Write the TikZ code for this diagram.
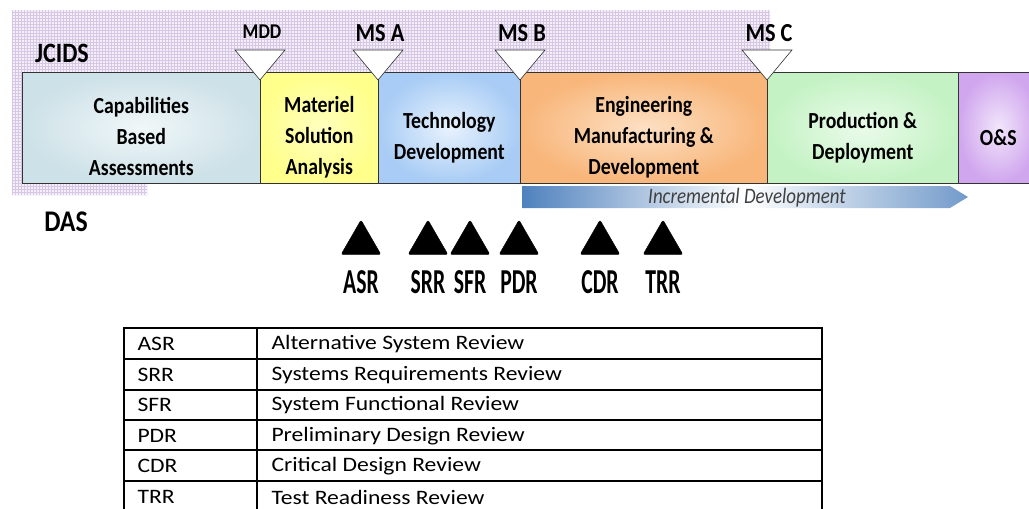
\documentclass[tikz,border=0pt]{standalone}
\usepackage{fontspec}
\setmainfont{Carlito}
\newfontfamily\narrowfont[FakeStretch=0.86]{Carlito}
\newfontfamily\reviewfont[FakeStretch=0.62]{Carlito}
\newfontfamily\tablefont[FakeStretch=1.15]{Carlito}
\usetikzlibrary{shapes.geometric}

\definecolor{jcidsfill}{RGB}{243,238,248}
\definecolor{jcidsgrid}{RGB}{214,200,228}
\definecolor{cbaout}{RGB}{205,225,232}
\definecolor{cbain}{RGB}{240,247,248}
\definecolor{msaout}{RGB}{255,255,140}
\definecolor{msain}{RGB}{255,255,190}
\definecolor{tdout}{RGB}{168,204,245}
\definecolor{tdin}{RGB}{232,242,253}
\definecolor{emdout}{RGB}{248,182,122}
\definecolor{emdin}{RGB}{253,224,196}
\definecolor{pdout}{RGB}{196,242,196}
\definecolor{pdin}{RGB}{234,251,234}
\definecolor{osout}{RGB}{208,166,238}
\definecolor{osin}{RGB}{242,230,251}
\definecolor{incblue}{RGB}{79,129,189}

\tikzset{
  stagebox/.style={draw=black!80, semithick, minimum height=111pt, inner sep=0pt, anchor=north west},
  stagetext/.style={font=\narrowfont\bfseries\fontsize{23}{31}\selectfont, align=center},
  milestone/.style={draw=black!80, semithick, fill=white},
  mslabel/.style={font=\narrowfont\bfseries\fontsize{26}{28}\selectfont},
  review/.style={regular polygon, regular polygon sides=3, fill=black, draw=black,
    line join=round, rounded corners=2pt, minimum size=46pt, inner sep=0pt},
  reviewlabel/.style={font=\reviewfont\bfseries\fontsize{35}{36}\selectfont},
  tabtext/.style={font=\tablefont\fontsize{20.5}{22}\selectfont, anchor=west},
}

\begin{document}
\begin{tikzpicture}[x=1pt,y=-1pt]
  \useasboundingbox (0,0) rectangle (1029,509);

  % JCIDS background
  \begin{scope}
    \clip (12,10) rectangle (770,72) (12,72) rectangle (147,195);
    \fill[jcidsfill] (0,0) rectangle (780,200);
    \draw[jcidsgrid, line width=0.25pt, step=3pt] (0,0) grid (780,200);
  \end{scope}
  \node[font=\narrowfont\bfseries\fontsize{28}{30}\selectfont] (jcids) at (62,53) {JCIDS};
  \node[font=\narrowfont\bfseries\fontsize{30}{32}\selectfont] (das) at (66,222) {DAS};

  % stages
  \node[stagebox, minimum width=238pt, inner color=cbain, outer color=cbaout] (cba) at (22,72) {};
  \node[stagebox, minimum width=118pt, inner color=msain, outer color=msaout] (msa) at (260,72) {};
  \node[stagebox, minimum width=142pt, inner color=tdin, outer color=tdout] (td) at (378,72) {};
  \node[stagebox, minimum width=247pt, inner color=emdin, outer color=emdout] (emd) at (520,72) {};
  \node[stagebox, minimum width=191pt, inner color=pdin, outer color=pdout] (pd) at (767,72) {};
  \node[stagebox, minimum width=80pt, inner color=osin, outer color=osout] (os) at (958,72) {};

  \node[stagetext] at ([yshift=-9pt]cba.center) {Capabilities\\Based\\Assessments};
  \node[stagetext] at ([yshift=-9pt]msa.center) {Materiel\\Solution\\Analysis};
  \node[stagetext] at ([yshift=-10pt]td.center) {Technology\\Development};
  \node[stagetext] at ([yshift=-9pt]emd.center) {Engineering\\Manufacturing \&\\Development};
  \node[stagetext] at ([yshift=-10pt]pd.center) {Production \&\\Deployment};
  \node[stagetext] at ([yshift=-10pt]os.center) {O\&S};

  % milestones
  \foreach \x/\name/\lab in {378/msA/MS A, 520/msB/MS B, 767/msC/MS C} {
    \draw[milestone] (\x-25,50) -- (\x+25,50) -- (\x,80) -- cycle;
    \node[mslabel] (\name) at (\x+2,33) {\lab};
  }
  \draw[milestone] (235,50) -- (285,50) -- (260,80) -- cycle;
  \node[font=\narrowfont\bfseries\fontsize{21}{22}\selectfont] (mdd) at (262,32) {MDD};

  % incremental development arrow
  \shade[left color=incblue, right color=incblue!80, middle color=white]
    (522,186) -- (950,186) -- (968,197) -- (950,208) -- (522,208) -- cycle;
  \node[font=\narrowfont\itshape\fontsize{22}{24}\selectfont, text=black!75] (incr) at (747,198) {Incremental Development};

  % reviews
  \foreach \x/\r in {361/ASR, 428/SRR, 470/SFR, 519/PDR, 600/CDR, 663/TRR} {
    \node[review] (\r) at (\x,243) {};
    \node[reviewlabel] (\r-lab) at (\x,282) {\r};
  }

  % table
  \draw[line width=1.4pt] (124,328) rectangle (822,512);
  \foreach \y in {359,390,420,450,481}
    \draw[line width=1.4pt] (124,\y) -- (822,\y);
  \draw[line width=1.4pt] (257,328) -- (257,512);
  \foreach \i/\a/\d in {0/ASR/Alternative System Review, 1/SRR/Systems Requirements Review,
      2/SFR/System Functional Review, 3/PDR/Preliminary Design Review,
      4/CDR/Critical Design Review, 5/TRR/Test Readiness Review} {
    \node[tabtext] (ab-\a) at (134,344+30.6*\i) {\a};
    \node[tabtext] (de-\a) at (268,344+30.6*\i) {\d};
  }
\end{tikzpicture}
\end{document}
